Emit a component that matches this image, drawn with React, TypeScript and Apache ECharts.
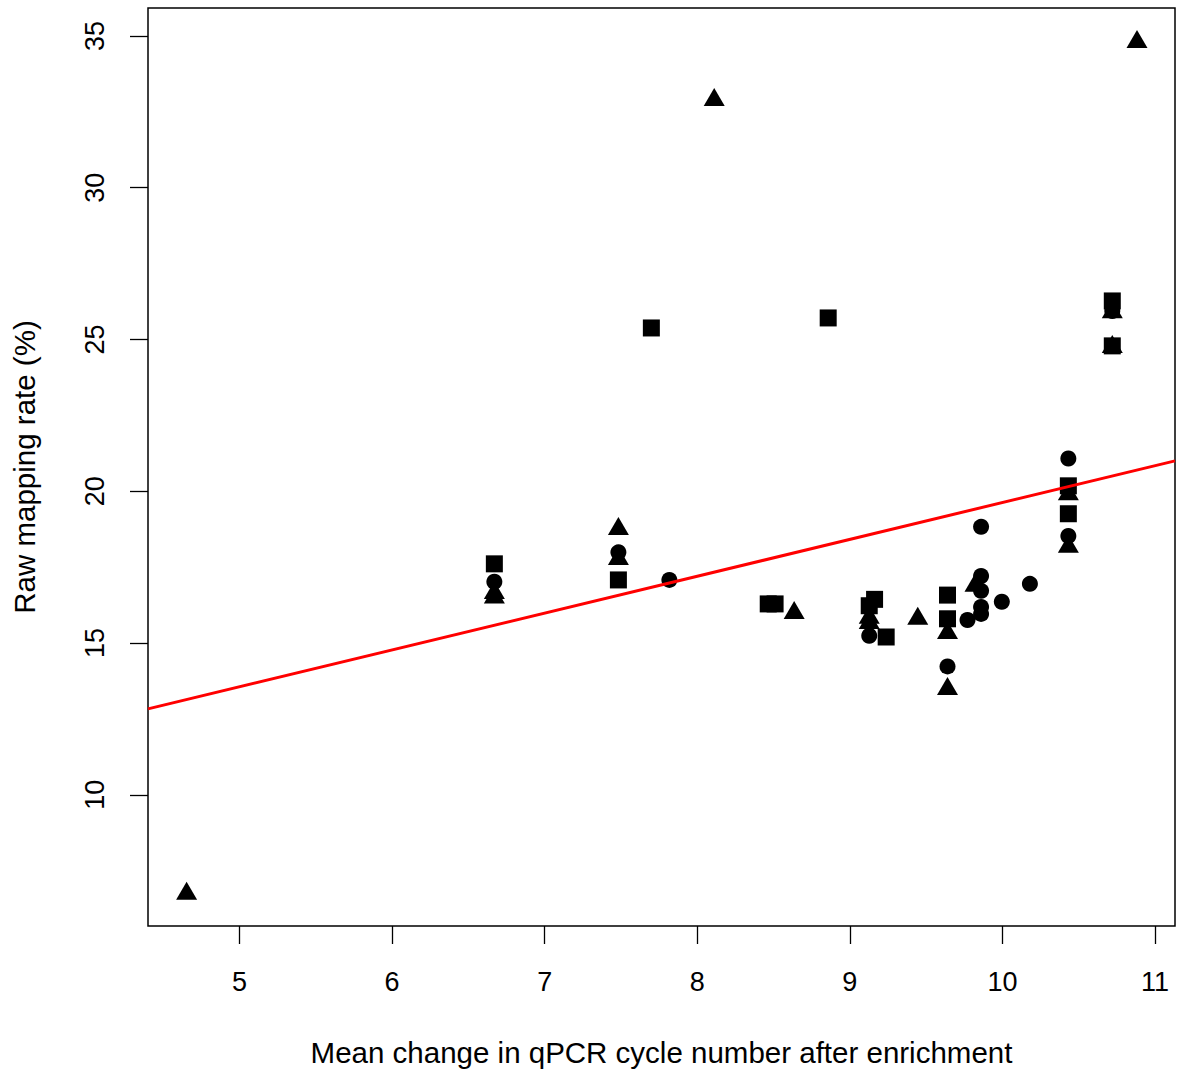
import React, { useEffect, useRef } from "react";
import * as echarts from "echarts";

const xTicks = [5, 6, 7, 8, 9, 10, 11];
const yTicks = [10, 15, 20, 25, 30, 35];

const circles: [number, number][] = [
  [6.67, 17.02], [7.483, 17.99], [7.817, 17.08], [9.127, 15.24], [9.64, 14.23],
  [9.771, 15.76], [9.86, 18.83], [9.86, 17.21], [9.86, 16.72], [9.86, 16.19],
  [9.86, 15.96], [9.996, 16.36], [10.18, 16.95], [10.432, 21.08], [10.432, 18.53],
  [10.72, 25.94],
];

const squares: [number, number][] = [
  [6.67, 17.61], [7.483, 17.08], [7.699, 25.38], [8.858, 25.71], [8.465, 16.29],
  [8.51, 16.29], [9.127, 16.23], [9.162, 16.44], [9.238, 15.2], [9.64, 16.58],
  [9.64, 15.8], [10.432, 20.18], [10.432, 19.26], [10.72, 26.27], [10.72, 24.79],
];

const triangles: [number, number][] = [
  [4.653, 6.84], [8.111, 32.99], [10.882, 34.9], [6.67, 16.75], [6.67, 16.6],
  [7.483, 18.86], [7.483, 17.87], [8.635, 16.09], [9.127, 15.93], [9.127, 15.76],
  [9.445, 15.9], [9.64, 15.43], [9.64, 13.59], [9.82, 16.99], [10.432, 20.0],
  [10.432, 18.27], [10.72, 26.0], [10.72, 24.85],
];

const fitIntercept = 7.49;
const fitSlope = 1.214;

const xMin = 4.4;
const xMax = 11.131;
const yMin = 5.68;
const yMax = 35.92;

export default function App() {
  const ref = useRef<HTMLDivElement>(null);
  useEffect(() => {
    if (!ref.current) return;
    const chart = echarts.init(ref.current, null, { renderer: "svg" });
    const font = "'Liberation Sans', Arial, Helvetica, sans-serif";
    chart.setOption({
      animation: false,
      backgroundColor: "#ffffff",
      grid: {
        left: 148,
        top: 8,
        right: 2,
        bottom: 148,
        show: true,
        borderColor: "#000",
        borderWidth: 1.5,
        backgroundColor: "transparent",
      },
      xAxis: {
        type: "value",
        min: xMin,
        max: xMax,
        name: "Mean change in qPCR cycle number after enrichment",
        nameLocation: "middle",
        nameGap: 111,
        nameTextStyle: { fontFamily: font, fontSize: 29.5, color: "#000" },
        axisLine: { show: false },
        splitLine: { show: false },
        axisTick: {
          show: true,
          length: 18,
          customValues: xTicks,
          lineStyle: { color: "#000", width: 1.3 },
        },
        axisLabel: {
          customValues: xTicks,
          margin: 42,
          fontFamily: font,
          fontSize: 27,
          color: "#000",
        },
      },
      yAxis: {
        type: "value",
        min: yMin,
        max: yMax,
        name: "Raw mapping rate (%)",
        nameLocation: "middle",
        nameGap: 109,
        nameTextStyle: { fontFamily: font, fontSize: 29.5, color: "#000" },
        axisLine: { show: false },
        splitLine: { show: false },
        axisTick: {
          show: true,
          length: 18,
          customValues: yTicks,
          lineStyle: { color: "#000", width: 1.3 },
        },
        axisLabel: {
          customValues: yTicks,
          rotate: 90,
          margin: 40,
          fontFamily: font,
          fontSize: 27,
          color: "#000",
        },
      },
      series: [
        {
          type: "line",
          data: [
            [xMin, fitIntercept + fitSlope * xMin],
            [xMax, fitIntercept + fitSlope * xMax],
          ],
          showSymbol: false,
          lineStyle: { color: "#ff0000", width: 3 },
          z: 3,
        },
        {
          type: "scatter",
          data: squares,
          symbol: "rect",
          symbolSize: 17,
          itemStyle: { color: "#000", opacity: 1 },
          z: 2,
        },
        {
          type: "scatter",
          data: circles,
          symbol: "circle",
          symbolSize: 16,
          itemStyle: { color: "#000", opacity: 1 },
          z: 2,
        },
        {
          type: "scatter",
          data: triangles,
          symbol: "triangle",
          symbolSize: [21, 18],
          itemStyle: { color: "#000", opacity: 1 },
          z: 2,
        },
      ],
    });
    return () => chart.dispose();
  }, []);
  return (
    <div
      ref={ref}
      style={{ position: "absolute", left: 0, top: 0, width: 1177, height: 1074 }}
    />
  );
}
